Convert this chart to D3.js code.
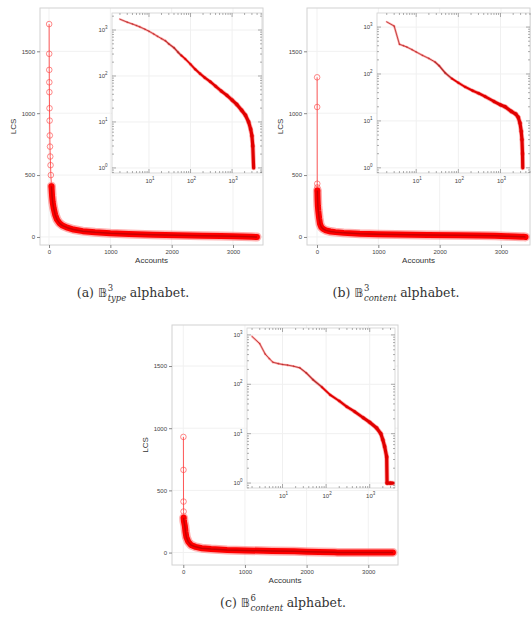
<!DOCTYPE html>
<html>
<head>
<meta charset="utf-8">
<script src="https://cdn.jsdelivr.net/npm/d3@7/dist/d3.min.js"></script>
<style>
  body { margin: 0; background: #fff; }
  svg { display: block; }
</style>
</head>
<body>
<svg id="chart" width="531" height="617"></svg>
<script>
// LCS per account, sorted (x = account rank)
var accountsA = [2,3,4,5,6,8,10,13,16,20,25,30,40,50,60,75,100,130,170,220,300,400,550,750,1000,1300,1700,2100,2500,2800,3000,3150,3300,3390];
var lcsA      = [1720,1480,1350,1250,1170,1040,940,820,730,650,580,500,410,330,280,234,180,140,112,92,75,60,47,38,30,24,18,14,10,7,5,3,1,0];

var accountsB = [2,3,4,5,6,8,10,14,20,28,35,49,70,100,145,220,300,435,700,1000,1290,1800,2300,2630,2900,3100,3230,3330,3370,3400];
var lcsB      = [1290,1050,430,400,375,330,295,250,215,180,150,105,80,65,53,44,39,33,26,22,20,16,14,12,9,6,4,2,1,0];

var accountsC = [2,3,4,5,6,8,10,13,18,25,35,50,80,124,200,300,450,710,1000,1440,1800,2000,2200,2450,2500,3000,3400];
var lcsC      = [930,665,410,330,280,262,252,245,232,215,170,124,88,61,46,35,28,21,17,13,10,7.5,5.5,3.4,1,1,1];

// tick labels
var mainYTicks = [0, 500, 1000, 1500];
var mainXTicks = [0, 1000, 2000, 3000];
var insetYExp = [0, 1, 2, 3];
var insetXExp = [1, 2, 3];

// captions
var captions = [
  {letter: "(a)", sup: "3", sub: "type"},
  {letter: "(b)", sup: "3", sub: "content"},
  {letter: "(c)", sup: "6", sub: "content"}
];

// layout of each panel (pixels); bandFrom = rank where the markers merge into a solid band
var panels = [
  {acc: accountsA, lcs: lcsA, cap: captions[0],
   box: {x0: 40, x1: 263, y0: 8, y1: 245}, xDom: [-147, 3489], yDom: [-65, 1850],
   inset: {x0: 112, x1: 262, y0: 13, y1: 173, xDom: [0.11, 3.72], yDom: [-0.11, 3.37]},
   bandFrom: 40, capX: 133, capY: 297},
  {acc: accountsB, lcs: lcsB, cap: captions[1],
   box: {x0: 307, x1: 530, y0: 8, y1: 245}, xDom: [-163, 3473], yDom: [-65, 1850],
   inset: {x0: 377, x1: 530, y0: 13, y1: 173, xDom: [0.07, 3.7], yDom: [-0.11, 3.3]},
   bandFrom: 6, capX: 396, capY: 297},
  {acc: accountsC, lcs: lcsC, cap: captions[2],
   box: {x0: 172, x1: 398, y0: 325, y1: 565}, xDom: [-183, 3482], yDom: [-100, 1830],
   inset: {x0: 247, x1: 395, y0: 328, y1: 488, xDom: [0.185, 3.58], yDom: [-0.1, 3.14]},
   bandFrom: 6, capX: 283, capY: 607}
];

var svg = d3.select("#chart");
var tickFont = "Liberation Sans, Arial, sans-serif";

panels.forEach(function(p, idx) {
  var g = svg.append("g");
  var b = p.box;
  var x = d3.scaleLinear().domain(p.xDom).range([b.x0, b.x1]);
  var y = d3.scaleLinear().domain(p.yDom).range([b.y1, b.y0]);
  var pts = p.acc.map(function(a, i) { return [a, p.lcs[i]]; });

  // faint grid
  g.selectAll(".gx").data(mainXTicks).enter().append("line")
    .attr("x1", function(d) { return x(d); }).attr("x2", function(d) { return x(d); })
    .attr("y1", b.y0).attr("y2", b.y1)
    .attr("stroke", "#f1f1f1").attr("stroke-width", 1);
  g.selectAll(".gy").data(mainYTicks).enter().append("line")
    .attr("y1", function(d) { return y(d); }).attr("y2", function(d) { return y(d); })
    .attr("x1", b.x0).attr("x2", b.x1)
    .attr("stroke", "#f1f1f1").attr("stroke-width", 1);

  g.append("rect")
    .attr("x", b.x0).attr("y", b.y0)
    .attr("width", b.x1 - b.x0).attr("height", b.y1 - b.y0)
    .attr("fill", "none").attr("stroke", "#d2d2d2").attr("stroke-width", 1);

  // axes
  var ax = g.append("g")
    .attr("transform", "translate(0," + b.y1 + ")")
    .call(d3.axisBottom(x).tickValues(mainXTicks).tickFormat(d3.format("d")).tickSize(3).tickPadding(2));
  var ay = g.append("g")
    .attr("transform", "translate(" + b.x0 + ",0)")
    .call(d3.axisLeft(y).tickValues(mainYTicks).tickFormat(d3.format("d")).tickSize(3).tickPadding(2));
  [ax, ay].forEach(function(a) {
    a.select(".domain").remove();
    a.selectAll("line").attr("stroke", "#888");
    a.selectAll("text").attr("font-family", tickFont).attr("font-size", 6).attr("fill", "#444");
  });

  g.append("text")
    .attr("x", (b.x0 + b.x1) / 2).attr("y", b.y1 + 18)
    .attr("text-anchor", "middle")
    .attr("font-family", tickFont).attr("font-size", 8).attr("fill", "#333")
    .text("Accounts");
  g.append("text")
    .attr("transform", "translate(" + (b.x0 - 24) + "," + ((b.y0 + b.y1) / 2) + ") rotate(-90)")
    .attr("text-anchor", "middle")
    .attr("font-family", tickFont).attr("font-size", 8).attr("fill", "#333")
    .text("LCS");

  // main curve: thick band where the markers pile up, open circles above it
  var line = d3.line().x(function(d) { return x(d[0]); }).y(function(d) { return y(d[1]); });
  var band = pts.filter(function(d) { return d[0] >= p.bandFrom; });
  var top = pts.filter(function(d) { return d[0] <= p.bandFrom; });

  g.append("path").datum(top).attr("d", line)
    .attr("fill", "none").attr("stroke", "#ff5a5a").attr("stroke-width", 1);
  g.selectAll(".mk").data(top).enter().append("circle")
    .attr("cx", function(d) { return x(d[0]); })
    .attr("cy", function(d) { return y(d[1]); })
    .attr("r", 2.8)
    .attr("fill", "none").attr("stroke", "#ff3c3c").attr("stroke-width", 0.8).attr("opacity", 0.75);

  g.append("path").datum(band).attr("d", line)
    .attr("fill", "none").attr("stroke", "#ff7070").attr("stroke-width", 9)
    .attr("stroke-linejoin", "round").attr("stroke-linecap", "round").attr("opacity", 0.55);
  g.append("path").datum(band).attr("d", line)
    .attr("fill", "none").attr("stroke", "#ff0000").attr("stroke-width", 6)
    .attr("stroke-linejoin", "round").attr("stroke-linecap", "round");
  g.append("path").datum(band).attr("d", line)
    .attr("fill", "none").attr("stroke", "#c80000").attr("stroke-width", 1.5)
    .attr("stroke-linejoin", "round");

  // ---------- log-log inset ----------
  var s = p.inset;
  var xi = d3.scaleLog().domain([Math.pow(10, s.xDom[0]), Math.pow(10, s.xDom[1])]).range([s.x0, s.x1]);
  var yi = d3.scaleLog().domain([Math.pow(10, s.yDom[0]), Math.pow(10, s.yDom[1])]).range([s.y1, s.y0]);
  var gi = svg.append("g");

  gi.append("rect")
    .attr("x", s.x0).attr("y", s.y0)
    .attr("width", s.x1 - s.x0).attr("height", s.y1 - s.y0)
    .attr("fill", "#fff");

  gi.selectAll(".igx").data(insetXExp).enter().append("line")
    .attr("x1", function(e) { return xi(Math.pow(10, e)); }).attr("x2", function(e) { return xi(Math.pow(10, e)); })
    .attr("y1", s.y0).attr("y2", s.y1).attr("stroke", "#f0f0f0");
  gi.selectAll(".igy").data(insetYExp).enter().append("line")
    .attr("y1", function(e) { return yi(Math.pow(10, e)); }).attr("y2", function(e) { return yi(Math.pow(10, e)); })
    .attr("x1", s.x0).attr("x2", s.x1).attr("stroke", "#f0f0f0");

  gi.append("rect")
    .attr("x", s.x0).attr("y", s.y0)
    .attr("width", s.x1 - s.x0).attr("height", s.y1 - s.y0)
    .attr("fill", "none").attr("stroke", "#d0d0d0").attr("stroke-width", 0.8);

  // minor + major ticks on all four sides
  var xt = [], yt = [];
  for (var k = -1; k <= 3; k++) {
    for (var m = 1; m <= 9; m++) {
      var v = m * Math.pow(10, k);
      if (v >= xi.domain()[0] && v <= xi.domain()[1]) xt.push({v: v, major: m === 1});
      if (v >= yi.domain()[0] && v <= yi.domain()[1]) yt.push({v: v, major: m === 1});
    }
  }
  xt.forEach(function(t) {
    var len = t.major ? 4 : 2;
    gi.append("line").attr("x1", xi(t.v)).attr("x2", xi(t.v)).attr("y1", s.y1).attr("y2", s.y1 - len)
      .attr("stroke", "#777").attr("stroke-width", 0.6);
    gi.append("line").attr("x1", xi(t.v)).attr("x2", xi(t.v)).attr("y1", s.y0).attr("y2", s.y0 + len)
      .attr("stroke", "#777").attr("stroke-width", 0.6);
  });
  yt.forEach(function(t) {
    var len = t.major ? 4 : 2;
    gi.append("line").attr("y1", yi(t.v)).attr("y2", yi(t.v)).attr("x1", s.x0).attr("x2", s.x0 + len)
      .attr("stroke", "#777").attr("stroke-width", 0.6);
    gi.append("line").attr("y1", yi(t.v)).attr("y2", yi(t.v)).attr("x1", s.x1).attr("x2", s.x1 - len)
      .attr("stroke", "#777").attr("stroke-width", 0.6);
  });

  function powLabel(sel, e) {
    sel.append("tspan").text("10");
    sel.append("tspan").attr("dy", -3).attr("font-size", 4.5).text(e);
  }
  insetYExp.forEach(function(e) {
    var t = gi.append("text")
      .attr("x", s.x0 - 9).attr("y", yi(Math.pow(10, e)) + 2)
      .attr("text-anchor", "middle")
      .attr("font-family", tickFont).attr("font-size", 6).attr("fill", "#444");
    powLabel(t, e);
  });
  insetXExp.forEach(function(e) {
    var t = gi.append("text")
      .attr("x", xi(Math.pow(10, e)) + 1).attr("y", s.y1 + 10)
      .attr("text-anchor", "middle")
      .attr("font-family", tickFont).attr("font-size", 6).attr("fill", "#444");
    powLabel(t, e);
  });

  // inset curve: thin on the left, widening where the points get dense
  var clipId = "clip" + idx;
  gi.append("clipPath").attr("id", clipId).append("rect")
    .attr("x", s.x0).attr("y", s.y0).attr("width", s.x1 - s.x0).attr("height", s.y1 - s.y0);
  var cg = gi.append("g").attr("clip-path", "url(#" + clipId + ")");
  var pos = pts.filter(function(d) { return d[1] > 0; });
  var segs = d3.pairs(pos);
  function thick(a) {
    var t = (Math.log10(a) - 1.2) / 1.9;
    return Math.max(0, Math.min(1, t));
  }
  cg.selectAll(".halo").data(segs).enter().append("line")
    .attr("x1", function(d) { return xi(d[0][0]); }).attr("y1", function(d) { return yi(d[0][1]); })
    .attr("x2", function(d) { return xi(d[1][0]); }).attr("y2", function(d) { return yi(d[1][1]); })
    .attr("stroke", "#ff4a4a").attr("stroke-linecap", "round").attr("opacity", 0.45)
    .attr("stroke-width", function(d) { return 2.2 + 2.6 * thick(d[0][0]); });
  cg.selectAll(".core").data(segs).enter().append("line")
    .attr("x1", function(d) { return xi(d[0][0]); }).attr("y1", function(d) { return yi(d[0][1]); })
    .attr("x2", function(d) { return xi(d[1][0]); }).attr("y2", function(d) { return yi(d[1][1]); })
    .attr("stroke", function(d) { return thick(d[0][0]) > 0.3 ? "#e00000" : "#b22a2a"; })
    .attr("stroke-linecap", "round")
    .attr("stroke-width", function(d) { return 0.8 + 2.4 * thick(d[0][0]); });

  // ---------- caption ----------
  var cap = svg.append("g");
  var serif = "DejaVu Serif, Liberation Serif, serif";
  var t1 = cap.append("text").attr("x", 0).attr("y", 0)
    .attr("font-family", serif).attr("font-size", 12.5).attr("fill", "#333")
    .text(p.cap.letter);
  var w1 = t1.node().getComputedTextLength() + 4;
  var tb = cap.append("text").attr("x", w1).attr("y", 0)
    .attr("font-family", "DejaVu Sans, " + serif).attr("font-size", 12.5).attr("fill", "#333")
    .text("\uD835\uDD39");
  var w2 = tb.node().getComputedTextLength();
  var ts = cap.append("text").attr("x", w1 + w2 + 0.5).attr("y", -6)
    .attr("font-family", serif).attr("font-size", 8.5).attr("fill", "#333")
    .text(p.cap.sup);
  var tsub = cap.append("text").attr("x", w1 + w2 + 0.5).attr("y", 3.5)
    .attr("font-family", serif).attr("font-style", "italic").attr("font-size", 8.5).attr("fill", "#333")
    .text(p.cap.sub);
  var w3 = Math.max(ts.node().getComputedTextLength(), tsub.node().getComputedTextLength());
  var t4 = cap.append("text").attr("x", w1 + w2 + w3 + 4).attr("y", 0)
    .attr("font-family", serif).attr("font-size", 12.5).attr("fill", "#333")
    .text("alphabet.");
  var total = w1 + w2 + w3 + 4 + t4.node().getComputedTextLength();
  cap.attr("transform", "translate(" + (p.capX - total / 2) + "," + p.capY + ")");
});
</script>
</body>
</html>
